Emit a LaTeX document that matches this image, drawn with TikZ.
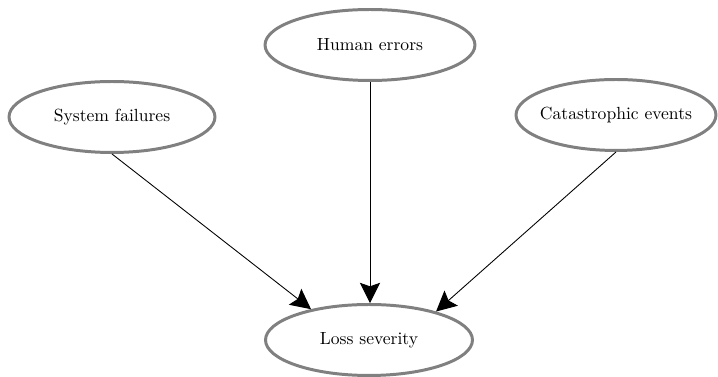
\documentclass[tikz,border=0pt]{standalone}
\usetikzlibrary{shapes.geometric, arrows.meta}
\begin{document}
\begin{tikzpicture}[x=0.02cm, y=-0.02cm, line width=0.5pt, main/.style = {draw=gray, line width=1.7pt, ellipse, inner xsep=-8pt, inner ysep=0pt, minimum height=1.42cm}, >={Stealth[length=11.5pt, width=11.5pt, inset=2pt]}]
\useasboundingbox (0,0) rectangle (718,377);
\node[main, minimum width=4.2cm] (human) at (370,45) {Human errors};
\node[main, minimum width=4.12cm] (system) at (112,117) {System failures};
\node[main, minimum width=4.0cm] (catastrophic) at (616,115) {Catastrophic events};
\node[main, minimum width=4.14cm] (loss) at (369,340) {Loss severity};
\draw[->] (human.south) -- (human.south |- loss.north);
\draw[->] (system.south) -- (loss.152);
\draw[->] (catastrophic.south) -- (loss.23);
\end{tikzpicture}
\end{document}
